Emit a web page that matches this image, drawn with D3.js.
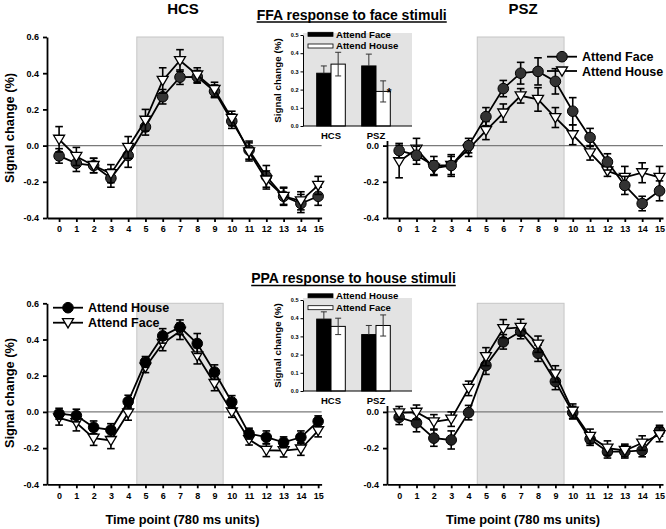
<!DOCTYPE html>
<html>
<head>
<meta charset="utf-8">
<script src="https://cdn.jsdelivr.net/npm/d3@7"></script>
<style>
  html, body { margin: 0; padding: 0; background: #fff; }
  svg { display: block; font-family: "Liberation Sans", Arial, Helvetica, sans-serif; font-weight: bold; }
</style>
</head>
<body>
<svg id="chart" width="666" height="529"></svg>
<script>
// ---------------- DATA ----------------
const timePoints = [0, 1, 2, 3, 4, 5, 6, 7, 8, 9, 10, 11, 12, 13, 14, 15];
const yTicks = [-0.4, -0.2, 0.0, 0.2, 0.4, 0.6];
const yTicksRight = [-0.4, -0.2, 0.0];   // upper part of right panels is hidden by the insets
const stimulusBlock = [4.5, 9.5];

// FFA response to face stimuli
const ffaHcsAttendFace     = [-0.057, -0.098, -0.11, -0.18, -0.055, 0.103, 0.27, 0.378, 0.38, 0.30, 0.135, -0.025, -0.17, -0.28, -0.32, -0.28];
const ffaHcsAttendFaceErr  = [0.04, 0.045, 0.04, 0.05, 0.065, 0.045, 0.04, 0.04, 0.035, 0.035, 0.04, 0.05, 0.06, 0.045, 0.05, 0.05];
const ffaHcsAttendHouse    = [0.035, -0.06, -0.11, -0.155, -0.01, 0.14, 0.36, 0.47, 0.39, 0.31, 0.15, -0.035, -0.19, -0.28, -0.305, -0.22];
const ffaHcsAttendHouseErr = [0.07, 0.05, 0.04, 0.05, 0.06, 0.06, 0.07, 0.06, 0.04, 0.04, 0.04, 0.05, 0.05, 0.05, 0.05, 0.05];

const ffaPszAttendFace     = [-0.028, -0.053, -0.11, -0.11, 0.0, 0.16, 0.315, 0.40, 0.41, 0.355, 0.19, 0.045, -0.09, -0.22, -0.32, -0.25];
const ffaPszAttendFaceErr  = [0.04, 0.05, 0.05, 0.06, 0.04, 0.05, 0.045, 0.06, 0.075, 0.07, 0.075, 0.05, 0.045, 0.05, 0.04, 0.055];
const ffaPszAttendHouse    = [-0.088, -0.02, -0.125, -0.11, -0.02, 0.083, 0.18, 0.275, 0.255, 0.155, 0.06, -0.04, -0.14, -0.175, -0.15, -0.175];
const ffaPszAttendHouseErr = [0.09, 0.06, 0.04, 0.05, 0.04, 0.05, 0.05, 0.04, 0.065, 0.055, 0.055, 0.04, 0.03, 0.06, 0.055, 0.06];

// PPA response to house stimuli
const ppaHcsAttendHouse    = [-0.01, -0.02, -0.085, -0.10, 0.057, 0.276, 0.42, 0.468, 0.378, 0.22, 0.055, -0.12, -0.14, -0.168, -0.14, -0.052];
const ppaHcsAttendHouseErr = [0.03, 0.035, 0.035, 0.035, 0.035, 0.03, 0.04, 0.04, 0.055, 0.04, 0.035, 0.03, 0.035, 0.03, 0.035, 0.03];
const ppaHcsAttendFace     = [-0.033, -0.06, -0.145, -0.158, -0.006, 0.247, 0.378, 0.445, 0.31, 0.157, 0.0, -0.153, -0.212, -0.214, -0.205, -0.103];
const ppaHcsAttendFaceErr  = [0.04, 0.045, 0.04, 0.045, 0.04, 0.03, 0.04, 0.045, 0.045, 0.04, 0.03, 0.03, 0.035, 0.035, 0.035, 0.035];

const ppaPszAttendHouse    = [-0.03, -0.06, -0.145, -0.155, -0.004, 0.257, 0.387, 0.444, 0.324, 0.168, -0.004, -0.15, -0.22, -0.22, -0.213, -0.104];
const ppaPszAttendHouseErr = [0.04, 0.05, 0.045, 0.05, 0.04, 0.05, 0.04, 0.04, 0.045, 0.045, 0.035, 0.035, 0.035, 0.035, 0.035, 0.03];
const ppaPszAttendFace     = [-0.005, -0.002, -0.055, -0.04, 0.13, 0.305, 0.46, 0.467, 0.374, 0.21, 0.004, -0.135, -0.2, -0.213, -0.172, -0.125];
const ppaPszAttendFaceErr  = [0.035, 0.04, 0.04, 0.04, 0.04, 0.05, 0.05, 0.045, 0.045, 0.045, 0.04, 0.04, 0.04, 0.035, 0.04, 0.04];

// Insets (block-averaged signal change)
const insetGroups = ["HCS", "PSZ"];
const insetTicks = [0.0, 0.1, 0.2, 0.3, 0.4, 0.5];
const ffaInsetAttendFace     = [0.29, 0.33];
const ffaInsetAttendFaceErr  = [0.04, 0.065];
const ffaInsetAttendHouse    = [0.34, 0.19];
const ffaInsetAttendHouseErr = [0.065, 0.058];
const ppaInsetAttendHouse    = [0.395, 0.31];
const ppaInsetAttendHouseErr = [0.04, 0.05];
const ppaInsetAttendFace     = [0.355, 0.36];
const ppaInsetAttendFaceErr  = [0.045, 0.058];

// ---------------- DRAWING ----------------
const svg = d3.select("#chart");
const fmt1 = d => d.toFixed(1);
const triPath = "M-5.5,-4L5.5,-4L0,5.2Z";

function makePanel(cfg) {
  const x = d3.scaleLinear().domain([-0.7, 15.2]).range(cfg.xr);
  const y = d3.scaleLinear().domain([-0.4, 0.6]).range(cfg.yr);
  return {x, y, cfg};
}

function drawFrame(p) {
  const {x, y, cfg} = p;
  const g = svg.append("g");
  g.append("rect")
    .attr("x", x(stimulusBlock[0])).attr("width", x(stimulusBlock[1]) - x(stimulusBlock[0]))
    .attr("y", y(0.6)).attr("height", y(-0.4) - y(0.6))
    .attr("fill", "#e3e3e3").attr("stroke", "#c6c6c6").attr("stroke-width", 1);
  g.append("line")
    .attr("x1", x.range()[0]).attr("x2", x.range()[1])
    .attr("y1", y(0)).attr("y2", y(0))
    .attr("stroke", "#7a7a7a").attr("stroke-width", 1.4);
  const ya = g.append("g").attr("transform", `translate(${x.range()[0]},0)`)
    .call(d3.axisLeft(y).tickValues(cfg.ticks).tickFormat(fmt1).tickSize(4).tickSizeOuter(0).tickPadding(4));
  const xa = g.append("g").attr("transform", `translate(0,${y(-0.4)})`)
    .call(d3.axisBottom(x).tickValues(timePoints).tickFormat(d3.format("d")).tickSize(4).tickSizeOuter(0).tickPadding(4));
  [ya, xa].forEach(a => {
    a.selectAll("path, line").attr("stroke", "#000").attr("stroke-width", 1.8);
    a.selectAll("text").attr("font-size", 9).attr("font-weight", "bold").attr("fill", "#000")
      .attr("font-family", "'Liberation Sans', Arial, sans-serif");
  });
}

function drawSeries(p, series) {
  const {x, y} = p;
  const g = svg.append("g");
  series.forEach(s => {
    const pts = timePoints.map((t, i) => ({t, v: s.vals[i], e: s.errs[i]}));
    const eb = g.append("g");
    pts.forEach(d => {
      eb.append("line").attr("x1", x(d.t)).attr("x2", x(d.t))
        .attr("y1", y(d.v - d.e)).attr("y2", y(d.v + d.e))
        .attr("stroke", "#000").attr("stroke-width", 1.6);
      [d.v - d.e, d.v + d.e].forEach(v => {
        eb.append("line").attr("x1", x(d.t) - 3.8).attr("x2", x(d.t) + 3.8)
          .attr("y1", y(v)).attr("y2", y(v))
          .attr("stroke", "#000").attr("stroke-width", 1.6);
      });
    });
    g.append("path").datum(pts)
      .attr("d", d3.line().x(d => x(d.t)).y(d => y(d.v)))
      .attr("fill", "none").attr("stroke", "#000").attr("stroke-width", 1.8);
    pts.forEach(d => {
      if (s.shape === "circle") {
        g.append("circle").attr("cx", x(d.t)).attr("cy", y(d.v)).attr("r", 5.3)
          .attr("fill", s.fill).attr("stroke", "#000").attr("stroke-width", 1);
      } else {
        g.append("path").attr("d", triPath)
          .attr("transform", `translate(${x(d.t)},${y(d.v)})`)
          .attr("fill", "#fff").attr("stroke", "#000").attr("stroke-width", 1.3);
      }
    });
  });
}

function drawLegend(entries, x0, fs) {
  const g = svg.append("g");
  entries.forEach(e => {
    g.append("line").attr("x1", x0).attr("x2", x0 + 30).attr("y1", e.y).attr("y2", e.y)
      .attr("stroke", "#000").attr("stroke-width", 1.8);
    if (e.shape === "circle") {
      g.append("circle").attr("cx", x0 + 15).attr("cy", e.y).attr("r", 5.3)
        .attr("fill", e.fill).attr("stroke", "#000").attr("stroke-width", 1);
    } else {
      g.append("path").attr("d", triPath).attr("transform", `translate(${x0 + 15},${e.y})`)
        .attr("fill", "#fff").attr("stroke", "#000").attr("stroke-width", 1.3);
    }
    g.append("text").attr("x", x0 + 35).attr("y", e.y).attr("dy", "0.36em")
      .attr("font-size", fs).attr("font-weight", "bold").text(e.label);
  });
}

function drawInset(cfg) {
  const g = svg.append("g");
  const y = d3.scaleLinear().domain([0, 0.5]).range([cfg.y0, cfg.y0 - 91]);
  const xb = d3.scaleBand().domain(insetGroups).range([316.7, 390.3]).paddingInner(0.364).paddingOuter(0);
  const xs = d3.scaleBand().domain([0, 1]).range([0, xb.bandwidth()]);
  g.append("rect").attr("x", 262).attr("y", cfg.y0 - 104).attr("width", 154).attr("height", 119).attr("fill", "#fff");
  g.append("rect").attr("x", 303).attr("y", y(0.5) - 2).attr("width", 109).attr("height", y(0) - y(0.5) + 2)
    .attr("fill", "#e3e3e3");
  cfg.series.forEach((s, si) => {
    insetGroups.forEach((grp, gi) => {
      const bx = xb(grp) + xs(si);
      const v = s.vals[gi], e = s.errs[gi];
      const cx = bx + xs.bandwidth() / 2;
      g.append("rect").attr("x", bx).attr("y", y(v)).attr("width", xs.bandwidth()).attr("height", y(0) - y(v))
        .attr("fill", s.fill).attr("stroke", "#000").attr("stroke-width", 1);
      const lo = s.fill === "#fff" ? v - e : v;
      g.append("line").attr("x1", cx).attr("x2", cx).attr("y1", y(lo)).attr("y2", y(v + e))
        .attr("stroke", "#333").attr("stroke-width", 1);
      const caps = s.fill === "#fff" ? [v - e, v + e] : [v + e];
      caps.forEach(vv => g.append("line").attr("x1", cx - 3).attr("x2", cx + 3)
        .attr("y1", y(vv)).attr("y2", y(vv)).attr("stroke", "#333").attr("stroke-width", 1));
      if (s.star && s.star[gi]) {
        g.append("text").attr("x", cx + 6).attr("y", y(v + e) + 16).attr("text-anchor", "middle")
          .attr("font-size", 12).attr("font-weight", "bold").text("*");
      }
    });
  });
  const ya = g.append("g").attr("transform", "translate(303,0)")
    .call(d3.axisLeft(y).tickValues(insetTicks).tickFormat(fmt1).tickSize(2.5).tickSizeOuter(0).tickPadding(2));
  ya.selectAll("path, line").attr("stroke", "#000").attr("stroke-width", 1);
  ya.selectAll("text").attr("font-size", 5.5).attr("font-weight", "bold").attr("font-family", "'Liberation Sans', Arial, sans-serif");
  g.append("line").attr("x1", 303).attr("x2", 412).attr("y1", y(0)).attr("y2", y(0))
    .attr("stroke", "#000").attr("stroke-width", 1);
  insetGroups.forEach(grp => {
    g.append("text").attr("x", xb(grp) + xb.bandwidth() / 2).attr("y", y(0) + 13)
      .attr("text-anchor", "middle").attr("font-size", 9.5).attr("font-weight", "bold").text(grp);
  });
  g.append("text").attr("transform", `translate(277,${y(0.25)}) rotate(-90)`)
    .attr("text-anchor", "middle").attr("dy", "0.36em").attr("font-size", 9.8).attr("font-weight", "bold")
    .text("Signal change (%)");
  cfg.series.forEach((s, si) => {
    const ly = cfg.legendY[si];
    g.append("rect").attr("x", 308).attr("y", ly - 2).attr("width", 25).attr("height", 4)
      .attr("fill", s.fill).attr("stroke", "#000").attr("stroke-width", 0.8);
    g.append("text").attr("x", 336).attr("y", ly).attr("dy", "0.36em")
      .attr("font-size", 9.6).attr("font-weight", "bold").text(s.label);
  });
}

const pTL = makePanel({xr: [47, 321.6], yr: [218, 37], ticks: yTicks});
const pTR = makePanel({xr: [387, 663], yr: [218, 37], ticks: yTicksRight});
const pBL = makePanel({xr: [47, 321.6], yr: [484.3, 303.3], ticks: yTicks});
const pBR = makePanel({xr: [387, 663], yr: [484.3, 303.3], ticks: yTicksRight});

[pTL, pTR, pBL, pBR].forEach(drawFrame);

drawInset({
  y0: 126, legendY: [34.3, 46],
  series: [
    {label: "Attend Face", vals: ffaInsetAttendFace, errs: ffaInsetAttendFaceErr, fill: "#000"},
    {label: "Attend House", vals: ffaInsetAttendHouse, errs: ffaInsetAttendHouseErr, fill: "#fff", star: [false, true]}
  ]
});
drawInset({
  y0: 391, legendY: [295.8, 307.7],
  series: [
    {label: "Attend House", vals: ppaInsetAttendHouse, errs: ppaInsetAttendHouseErr, fill: "#000"},
    {label: "Attend Face", vals: ppaInsetAttendFace, errs: ppaInsetAttendFaceErr, fill: "#fff"}
  ]
});

drawSeries(pTL, [
  {vals: ffaHcsAttendFace, errs: ffaHcsAttendFaceErr, shape: "circle", fill: "#333"},
  {vals: ffaHcsAttendHouse, errs: ffaHcsAttendHouseErr, shape: "tri"}
]);
drawSeries(pTR, [
  {vals: ffaPszAttendHouse, errs: ffaPszAttendHouseErr, shape: "tri"},
  {vals: ffaPszAttendFace, errs: ffaPszAttendFaceErr, shape: "circle", fill: "#333"}
]);
drawSeries(pBL, [
  {vals: ppaHcsAttendFace, errs: ppaHcsAttendFaceErr, shape: "tri"},
  {vals: ppaHcsAttendHouse, errs: ppaHcsAttendHouseErr, shape: "circle", fill: "#000"}
]);
drawSeries(pBR, [
  {vals: ppaPszAttendHouse, errs: ppaPszAttendHouseErr, shape: "circle", fill: "#222"},
  {vals: ppaPszAttendFace, errs: ppaPszAttendFaceErr, shape: "tri"}
]);

drawLegend([
  {label: "Attend Face", shape: "circle", fill: "#333", y: 56.7},
  {label: "Attend House", shape: "tri", y: 71}
], 547, 12.5);
drawLegend([
  {label: "Attend House", shape: "circle", fill: "#000", y: 307.7},
  {label: "Attend Face", shape: "tri", y: 322.7}
], 53, 12.5);

function title(txt, x, y, fs, underline) {
  const t = svg.append("text").attr("x", x).attr("y", y).attr("text-anchor", "middle")
    .attr("font-size", fs).attr("font-weight", "bold").text(txt);
  if (underline) {
    const w = t.node().getComputedTextLength();
    svg.append("line").attr("x1", x - w / 2).attr("x2", x + w / 2)
      .attr("y1", y + 2.5).attr("y2", y + 2.5).attr("stroke", "#000").attr("stroke-width", 1.4);
  }
}
title("HCS", 183, 13.5, 15, false);
title("PSZ", 523, 13.5, 15, false);
title("FFA response to face stimuli", 351.7, 19.5, 14, true);
title("PPA response to house stimuli", 353.5, 283, 14, true);

[128, 393].forEach(cy => {
  svg.append("text").attr("transform", `translate(9,${cy}) rotate(-90)`)
    .attr("text-anchor", "middle").attr("dy", "0.36em")
    .attr("font-size", 12.8).attr("font-weight", "bold").text("Signal change (%)");
});
[182.5, 523].forEach(cx => {
  svg.append("text").attr("x", cx).attr("y", 524).attr("text-anchor", "middle")
    .attr("font-size", 12.8).attr("font-weight", "bold").text("Time point (780 ms units)");
});
</script>
</body>
</html>
